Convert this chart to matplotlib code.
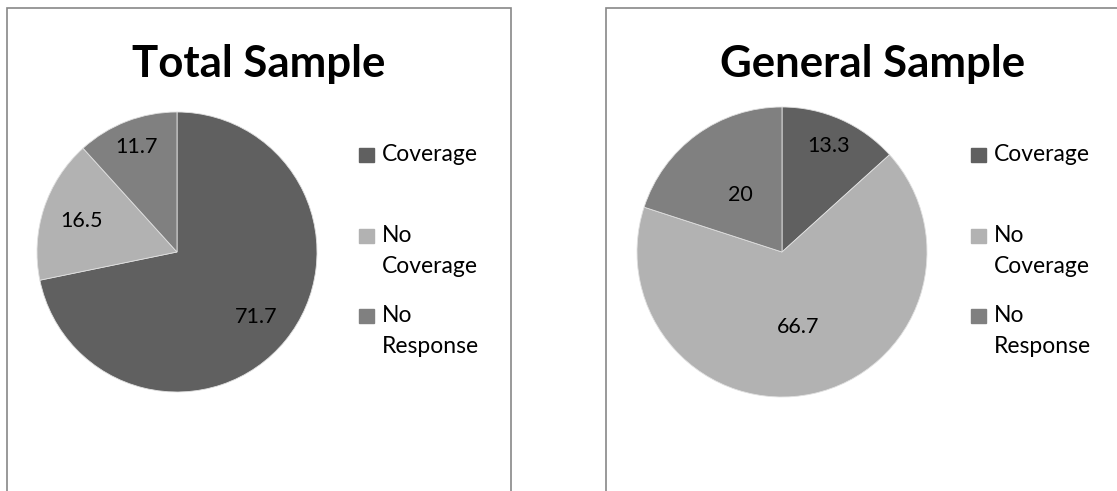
import matplotlib
matplotlib.use("Agg")
import matplotlib.pyplot as plt
from matplotlib.patches import Rectangle
import numpy as np

plt.rcParams['font.family'] = ['Lato', 'DejaVu Sans']

categories = ['Coverage', 'No Coverage', 'No Response']
legend_text = ['Coverage', 'No\nCoverage', 'No\nResponse']
total_sample = [71.7, 16.5, 11.7]
general_sample = [13.3, 66.7, 20]
total_labels = ['71.7', '16.5', '11.7']
general_labels = ['13.3', '66.7', '20']
colors = ['#606060', '#b2b2b2', '#808080']

W, H = 1117, 491
fig = plt.figure(figsize=(W / 100, H / 100), dpi=100)


def px(x0, y0, x1, y1):
    # pixel box (top-left origin) -> figure fraction rect
    return [x0 / W, 1 - y1 / H, (x1 - x0) / W, (y1 - y0) / H]


def draw_panel(box, pie_box, title, values, labels, label_dist, leg_x, leg_tops):
    x0, y0, x1, y1 = box
    fig.patches.append(Rectangle((x0 / W, 1 - y1 / H), (x1 - x0) / W, (y1 - y0) / H,
                                 transform=fig.transFigure, fill=False,
                                 edgecolor='#878787', linewidth=1.2))
    ax = fig.add_axes(px(*pie_box))
    wedges, _ = ax.pie(values, colors=colors, startangle=90, counterclock=False,
                       wedgeprops=dict(edgecolor='#e0e0e0', linewidth=0.6))
    ax.set_xlim(-1, 1)
    ax.set_ylim(-1, 1)
    ax.set_aspect('equal')
    ax.axis('off')
    for w, lab, d in zip(wedges, labels, label_dist):
        ang = np.deg2rad((w.theta1 + w.theta2) / 2)
        ax.text(d * np.cos(ang), d * np.sin(ang), lab, ha='center', va='center',
                fontsize=15.5, color='black')
    fig.text((x0 + x1) / 2 / W, 1 - 64 / H, title, ha='center', va='center',
             fontsize=31.5, fontweight='bold')
    for c, t, top in zip(colors, legend_text, leg_tops):
        fig.patches.append(Rectangle((leg_x / W, 1 - (top + 14) / H), 15 / W, 14 / H,
                                     transform=fig.transFigure, color=c))
        fig.text((leg_x + 23) / W, 1 - (top - 4) / H, t, ha='left', va='top',
                 fontsize=16.5, linespacing=1.6)


draw_panel((7, 8, 511, 520), (37, 112, 317, 392), 'Total Sample',
           total_sample, total_labels, [0.73, 0.72, 0.8], 359, [148, 229, 309])
draw_panel((606, 8, 1140, 520), (637, 107, 927, 397), 'General Sample',
           general_sample, general_labels, [0.8, 0.53, 0.49], 971, [148, 229, 309])

fig.savefig('out.png', dpi=100)
